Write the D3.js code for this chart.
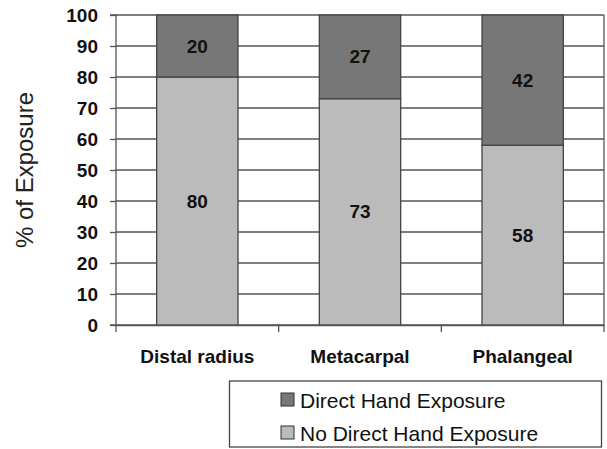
<!DOCTYPE html>
<html>
<head>
<meta charset="utf-8">
<script src="https://cdn.jsdelivr.net/npm/d3@7"></script>
<style>
  html, body { margin: 0; padding: 0; background: #fff; }
  svg { display: block; font-family: "Liberation Sans", Arial, sans-serif; }
</style>
</head>
<body>
<svg id="chart" width="607" height="449"></svg>
<script>
// Fracture site categories and the share of each exposure group (%)
const categories = ["Distal radius", "Metacarpal", "Phalangeal"];
const noDirectExposure = [80, 73, 58];
const directExposure = [20, 27, 42];
const yTicks = [0, 10, 20, 30, 40, 50, 60, 70, 80, 90, 100];
const seriesNames = ["Direct Hand Exposure", "No Direct Hand Exposure"];
const seriesColors = ["#777777", "#bbbbbb"];

const svg = d3.select("#chart");
const plot = { left: 116, right: 604, top: 15, bottom: 325 };
const gridColor = "#555";
const fontFamily = "'Liberation Sans', Arial, sans-serif";

const x = d3.scaleBand().domain(categories).range([plot.left, plot.right]).paddingInner(0).paddingOuter(0);
const y = d3.scaleLinear().domain([0, 100]).range([plot.bottom, plot.top]);
const barW = x.bandwidth() * 0.5;

// horizontal gridlines
svg.append("g").selectAll("line").data(yTicks).join("line")
  .attr("x1", plot.left).attr("x2", plot.right)
  .attr("y1", d => y(d)).attr("y2", d => y(d))
  .attr("stroke", gridColor).attr("stroke-width", 1.3);

// right border
svg.append("line")
  .attr("x1", plot.right).attr("x2", plot.right)
  .attr("y1", plot.top).attr("y2", plot.bottom)
  .attr("stroke", gridColor).attr("stroke-width", 1.3);

// stacked bars
const stacks = categories.map((c, i) => ({
  cat: c,
  parts: [
    { lo: 0, hi: noDirectExposure[i], color: seriesColors[1] },
    { lo: noDirectExposure[i], hi: noDirectExposure[i] + directExposure[i], color: seriesColors[0] }
  ]
}));

const barG = svg.append("g");
stacks.forEach(s => {
  const bx = x(s.cat) + (x.bandwidth() - barW) / 2;
  s.parts.forEach(p => {
    barG.append("rect")
      .attr("x", bx).attr("width", barW)
      .attr("y", y(p.hi)).attr("height", y(p.lo) - y(p.hi))
      .attr("fill", p.color).attr("stroke", "#444").attr("stroke-width", 1.3);
    barG.append("text")
      .attr("x", bx + barW / 2).attr("y", (y(p.lo) + y(p.hi)) / 2)
      .attr("text-anchor", "middle").attr("dominant-baseline", "central")
      .attr("font-size", 19).attr("font-weight", "bold").attr("fill", "#111")
      .text(p.hi - p.lo);
  });
});

// y axis
const yAxis = d3.axisLeft(y).tickValues(yTicks).tickSize(6).tickPadding(12);
const yg = svg.append("g").attr("transform", `translate(${plot.left},0)`).call(yAxis);
yg.select(".domain").attr("stroke", gridColor).attr("stroke-width", 1.3).attr("d", `M-6,${plot.top}H0V${plot.bottom}H-6`);
yg.selectAll(".tick line").attr("stroke", gridColor).attr("stroke-width", 1.3);
yg.selectAll(".tick text").attr("font-size", 19).attr("font-weight", "bold").attr("fill", "#111")
  .attr("font-family", fontFamily);

// x axis
const xAxis = d3.axisBottom(x).tickSize(0).tickPadding(25);
const xg = svg.append("g").attr("transform", `translate(0,${plot.bottom})`).call(xAxis);
xg.select(".domain").attr("stroke", gridColor).attr("stroke-width", 1.3);
xg.selectAll(".tick text").attr("font-size", 19).attr("font-weight", "bold").attr("fill", "#111")
  .attr("font-family", fontFamily);
// category boundary ticks
const bounds = categories.map(c => x(c)).concat([plot.right]);
xg.append("g").selectAll("line").data(bounds).join("line")
  .attr("x1", d => d).attr("x2", d => d).attr("y1", 0).attr("y2", 7)
  .attr("stroke", gridColor).attr("stroke-width", 1.3);

// y axis title
svg.append("text")
  .attr("transform", `translate(24,${(plot.top + plot.bottom) / 2}) rotate(-90)`)
  .attr("text-anchor", "middle").attr("dominant-baseline", "central")
  .attr("font-size", 24).attr("fill", "#222")
  .text("% of Exposure");

// legend
const legend = svg.append("g");
legend.append("rect")
  .attr("x", 229.5).attr("y", 381).attr("width", 372).attr("height", 66)
  .attr("fill", "#fff").attr("stroke", "#444").attr("stroke-width", 1.3);
seriesNames.forEach((name, i) => {
  const cy = 399.5 + i * 33;
  legend.append("rect")
    .attr("x", 281).attr("y", cy - 6.5).attr("width", 13).attr("height", 13)
    .attr("fill", seriesColors[i]).attr("stroke", "#333").attr("stroke-width", 1);
  legend.append("text")
    .attr("x", 300).attr("y", cy + 1).attr("dominant-baseline", "central")
    .attr("font-size", 21).attr("fill", "#111")
    .text(name);
});
</script>
</body>
</html>
